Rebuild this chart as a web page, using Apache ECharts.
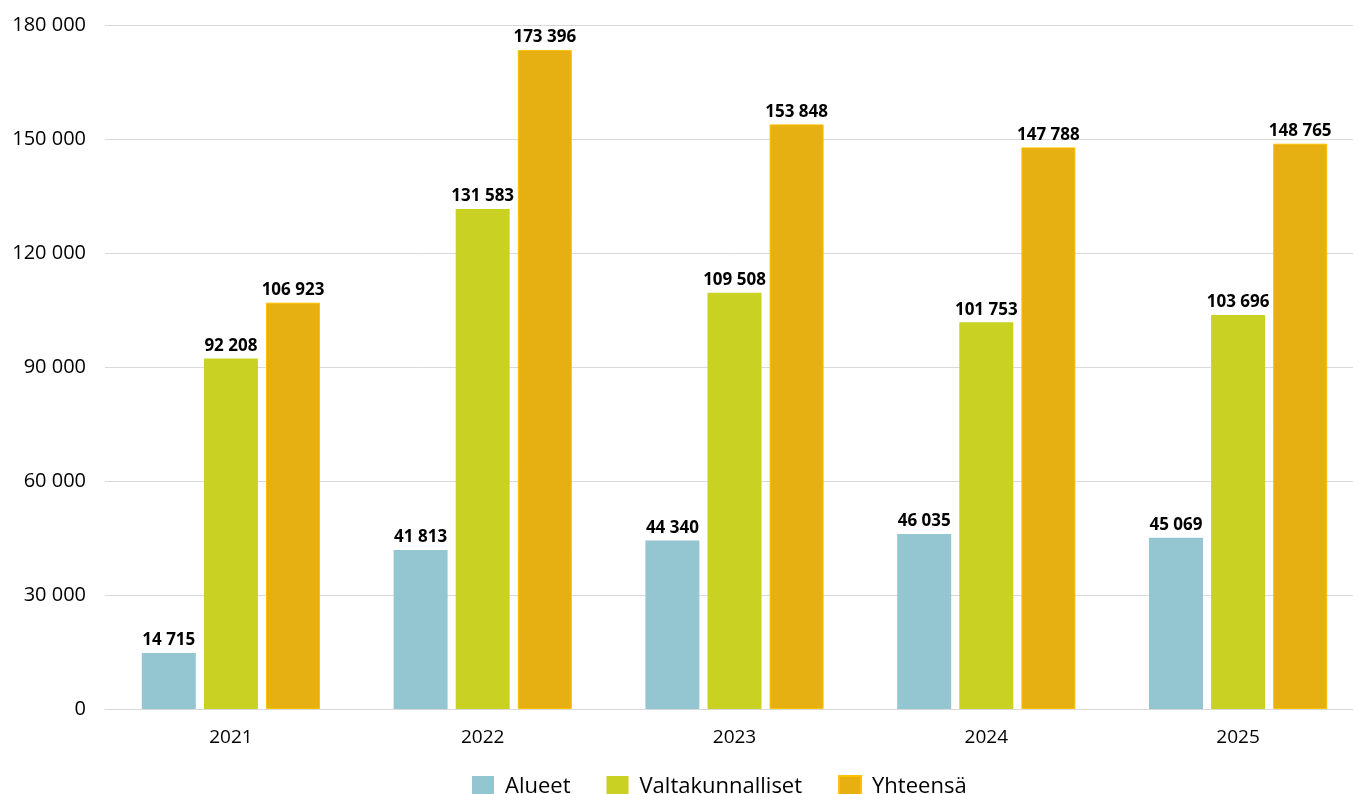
<!DOCTYPE html>
<html>
<head>
<meta charset="utf-8">
<script src="https://cdn.jsdelivr.net/npm/echarts@6/dist/echarts.min.js"></script>
<style>
  html, body { margin: 0; padding: 0; background: #fff; overflow: hidden; }
  /* kaavio jatkuu hieman ikkunan oikean reunan yli kuten alkuperäisessä */
  #chart { width: 1364px; height: 794px; }
</style>
</head>
<body>
<div id="chart"></div>
<script>
const years = ['2021', '2022', '2023', '2024', '2025']
const alueet = [14715, 41813, 44340, 46035, 45069]
const valtakunnalliset = [92208, 131583, 109508, 101753, 103696]
const yhteensa = [106923, 173396, 153848, 147788, 148765]

// tuhaterotin välilyönnillä
function fmt(v) {
  return String(v).replace(/\B(?=(\d{3})+(?!\d))/g, ' ')
}

const labelStyle = {
  show: true,
  position: 'top',
  distance: 4,
  color: '#000',
  fontWeight: 'bold',
  fontSize: 17,
  fontFamily: 'Open Sans',
  formatter: p => fmt(p.value)
}

const chart = echarts.init(document.getElementById('chart'))
chart.setOption({
  animation: false,
  grid: {
    left: 105,
    right: 0,
    top: 25,
    bottom: 85
  },
  legend: {
    top: 770,
    left: 467,
    itemWidth: 22,
    itemHeight: 22,
    itemGap: 36,
    icon: 'rect',
    textStyle: {
      fontSize: 22,
      fontFamily: 'Open Sans',
      color: '#000',
      padding: [0, 0, 0, 6]
    }
  },
  xAxis: {
    type: 'category',
    data: years,
    axisLine: { lineStyle: { color: '#d9d9d9' } },
    axisTick: { show: false },
    axisLabel: {
      color: '#000',
      fontSize: 19,
      fontFamily: 'Open Sans',
      margin: 19
    }
  },
  yAxis: {
    type: 'value',
    min: 0,
    max: 180000,
    interval: 30000,
    axisLine: { show: false },
    axisTick: { show: false },
    splitLine: { lineStyle: { color: '#d9d9d9' } },
    axisLabel: {
      color: '#000',
      fontSize: 20,
      fontFamily: 'Open Sans',
      margin: 19,
      formatter: v => fmt(v)
    }
  },
  series: [
    {
      name: 'Alueet',
      type: 'bar',
      data: alueet,
      barWidth: 54,
      barGap: '15%',
      itemStyle: { color: '#94c6d2' },
      label: labelStyle
    },
    {
      name: 'Valtakunnalliset',
      type: 'bar',
      data: valtakunnalliset,
      barWidth: 54,
      barGap: '15%',
      itemStyle: { color: '#c9d122' },
      label: labelStyle
    },
    {
      name: 'Yhteensä',
      type: 'bar',
      data: yhteensa,
      barWidth: 54,
      barGap: '15%',
      itemStyle: { color: '#e6af12', borderColor: '#ffc000', borderWidth: 1 },
      label: labelStyle
    }
  ]
})
</script>
</body>
</html>
